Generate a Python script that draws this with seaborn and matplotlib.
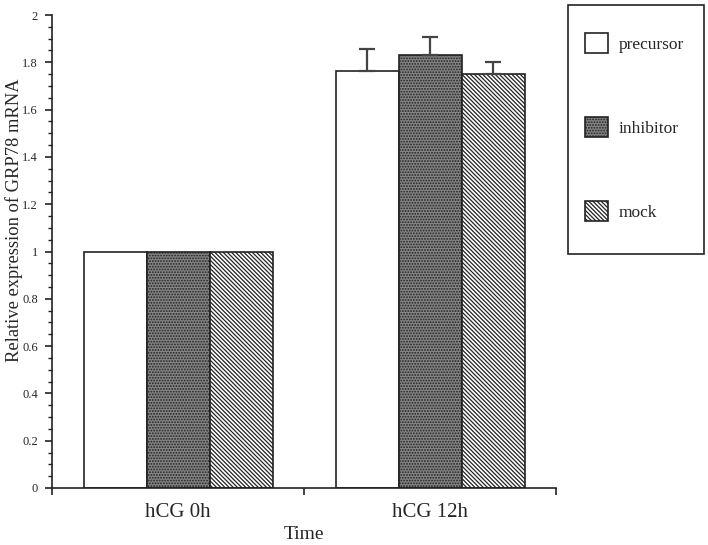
import numpy as np
import pandas as pd
import matplotlib
matplotlib.use("Agg")
import matplotlib.pyplot as plt
import seaborn as sns
from matplotlib.ticker import MultipleLocator, FixedLocator
from matplotlib.patches import Patch, Rectangle

times = ["hCG 0h", "hCG 12h"]
groups = ["precursor", "inhibitor", "mock"]
precursor = [1.0, 1.763]
inhibitor = [1.0, 1.831]
mock = [1.0, 1.749]
precursor_err = [0.0, 0.095]
inhibitor_err = [0.0, 0.076]
mock_err = [0.0, 0.051]
ytick_labels = ["0", "0.2", "0.4", "0.6", "0.8", "1", "1.2", "1.4", "1.6", "1.8", "2"]

sns.set_theme(style="ticks")
plt.rcParams["font.family"] = ["Liberation Serif", "DejaVu Serif"]
plt.rcParams["hatch.linewidth"] = 0.9

df = pd.DataFrame({
    "Time": times * 3,
    "group": [g for g in groups for _ in times],
    "value": precursor + inhibitor + mock,
    "err": precursor_err + inhibitor_err + mock_err,
})

fig = plt.figure(figsize=(7.08, 5.45), dpi=100)
ax = fig.add_axes([52/708, 57/545, 504/708, 473/545])

hatch_mock = "\\" * 8
hatch_inh = "......"

sns.barplot(data=df, x="Time", y="value", hue="group", order=times, hue_order=groups,
            palette=["white", "#858585", "white"], width=0.75, gap=0, errorbar=None,
            edgecolor="#222222", linewidth=1.2, legend=False, ax=ax)

hatches = {"precursor": "", "inhibitor": hatch_inh, "mock": hatch_mock}
for cont, g in zip(ax.containers, groups):
    errs = df[df.group == g].set_index("Time").loc[times, "err"].values
    for bar, e in zip(cont, errs):
        bar.set_hatch(hatches[g])
        if e > 0:
            xc = bar.get_x() + bar.get_width() / 2
            h = bar.get_height()
            ax.errorbar(xc, h, yerr=[[0], [e]], fmt="none", ecolor="#444444",
                        elinewidth=1.6, capsize=6, capthick=1.6, zorder=3)

ax.set_xlim(-0.5, 1.5)
ax.set_ylim(0, 2)
ax.yaxis.set_major_locator(FixedLocator(np.arange(0, 2.01, 0.2)))
ax.set_yticklabels(ytick_labels)
ax.yaxis.set_minor_locator(MultipleLocator(0.05))
ax.xaxis.set_major_locator(FixedLocator([0, 1]))
ax.set_xticklabels(times)
ax.xaxis.set_minor_locator(FixedLocator([-0.5, 0.5, 1.5]))
ax.tick_params(axis="x", which="major", length=0, labelsize=15, pad=11)
ax.tick_params(axis="x", which="minor", length=5, width=1.2, color="#222222")
ax.tick_params(axis="y", which="major", length=5, width=1.2, labelsize=9, pad=5, color="#222222")
ax.tick_params(axis="y", which="minor", length=3, width=1.0, color="#222222")

sns.despine(ax=ax)
for s in ["left", "bottom"]:
    ax.spines[s].set_linewidth(1.2)
    ax.spines[s].set_color("#222222")

ax.set_xlabel("Time", fontsize=14, labelpad=3)
ax.set_ylabel("Relative expression of GRP78 mRNA", fontsize=13.3)
ax.yaxis.set_label_coords(-0.0575, 0.567)

handles = [Patch(facecolor="white", edgecolor="#222222", linewidth=1.2),
           Patch(facecolor="#858585", edgecolor="#222222", linewidth=1.2, hatch=hatch_inh),
           Patch(facecolor="white", edgecolor="#222222", linewidth=1.2, hatch=hatch_mock)]
leg = fig.legend(handles, groups, loc="upper left", bbox_to_anchor=(585/708, 1 - 33/545),
                 frameon=False, prop={"size": 12.5}, borderpad=0,
                 labelspacing=3.71, handlelength=1.32, handleheight=1.38, handletextpad=0.63,
                 borderaxespad=0)
fig.add_artist(Rectangle((568/708, 1 - 254/545), 136/708, 249/545, transform=fig.transFigure,
                         fill=False, edgecolor="#222222", linewidth=1.2))

fig.savefig("out.png", dpi=100)
